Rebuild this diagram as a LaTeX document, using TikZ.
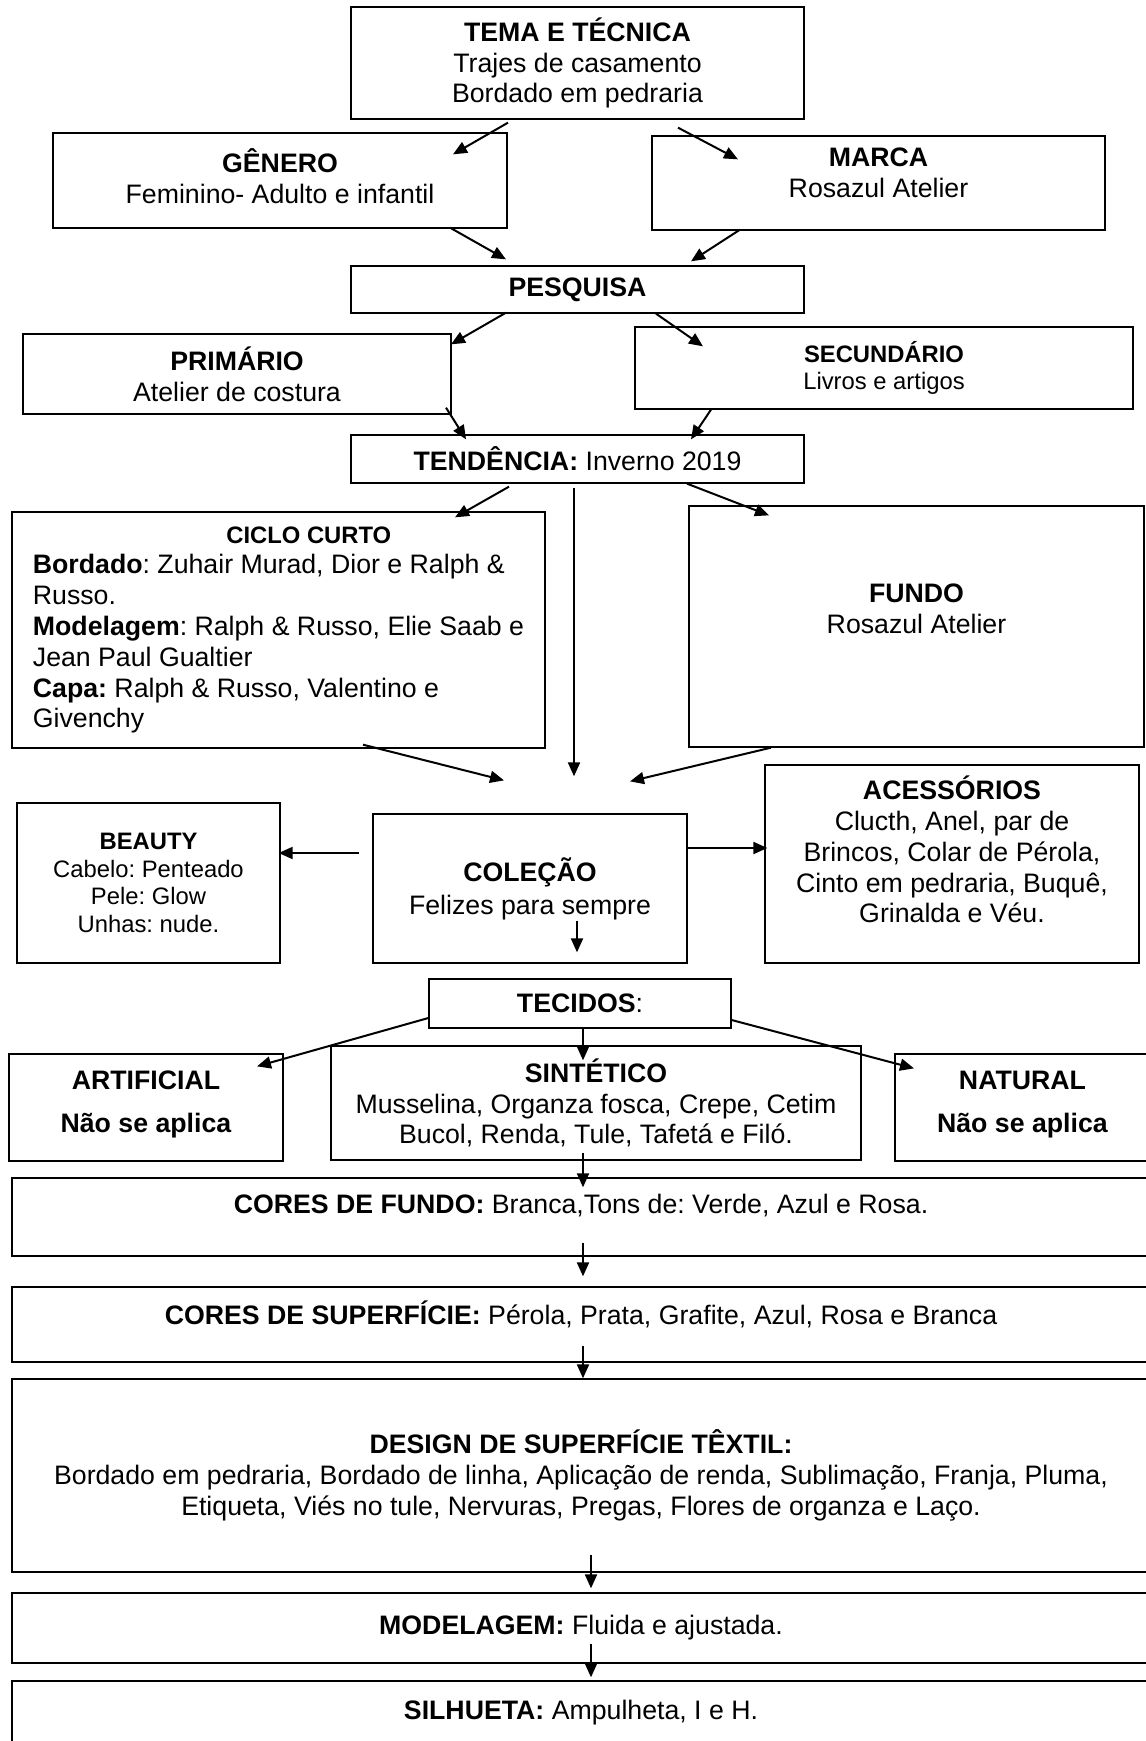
\documentclass[tikz,border=0pt]{standalone}
\usepackage{fontspec}
\setmainfont{Liberation Sans}
\usepackage{tikz}
\usetikzlibrary{arrows.meta}
\frenchspacing

\newcommand{\sm}{\fontsize{11.9pt}{13.7pt}\selectfont}
\newcommand{\lift}[2]{\raisebox{0pt}[\height][\dimexpr\depth+#1\relax]{#2}}

\begin{document}
\begin{tikzpicture}[
  x=0.5pt, y=-0.5pt,
  >={Triangle[length=7pt,width=6pt]},
  every node/.style={font=\fontsize{13.35pt}{15.4pt}\selectfont},
  box/.style={draw, line width=0.65pt, align=center, inner sep=1pt},
  sz/.style 2 args={minimum width=#1, minimum height=#2},
  link/.style={->, line width=1pt}
]
\useasboundingbox (0,0) rectangle (1146,1741);

% upper part
\node[box, sz={226.5pt}{56pt}] (tema) at (577.5,63) {\textbf{TEMA E TÉCNICA}\\Trajes de casamento\\Bordado em pedraria};
\node[box, sz={227pt}{47.5pt}] (genero) at (280,180.5) {\lift{0pt}{\begin{tabular}{@{}c@{}}\textbf{GÊNERO}\\Feminino- Adulto e infantil\end{tabular}}};
\node[box, sz={226.5pt}{47pt}] (marca) at (878.5,183) {\lift{7pt}{\begin{tabular}{@{}c@{}}\textbf{MARCA}\\Rosazul Atelier\end{tabular}}};
\node[box, sz={226.5pt}{23.5pt}] (pesquisa) at (577.5,289.5) {\textbf{PESQUISA}};
\node[box, sz={214pt}{40pt}] (primario) at (237,374) {\textbf{PRIMÁRIO}\\Atelier de costura};
\node[box, sz={249pt}{41pt}, font=\sm] (secundario) at (884,368) {\textbf{SECUNDÁRIO}\\Livros e artigos};
\node[box, sz={226.5pt}{24pt}] (tendencia) at (577.5,459) {\textbf{TENDÊNCIA:} Inverno 2019};

% middle part
\node[box, sz={266.5pt}{118pt}, align=left] (ciclo) at (278.5,630) {\hspace*{96.75pt}{\sm\textbf{CICLO CURTO}}\\
  \textbf{Bordado}: Zuhair Murad, Dior e Ralph \&\\Russo.\\
  \textbf{Modelagem}: Ralph \& Russo, Elie Saab e\\Jean Paul Gualtier\\
  \textbf{Capa:} Ralph \& Russo, Valentino e\\Givenchy};
\node[box, sz={227.5pt}{120.5pt}] (fundo) at (916.5,626.5) {\lift{15pt}{\begin{tabular}{@{}c@{}}\textbf{FUNDO}\\Rosazul Atelier\end{tabular}}};
\node[box, sz={131.5pt}{80pt}, font=\sm] (beauty) at (148.5,883) {\textbf{BEAUTY}\\Cabelo: Penteado\\Pele: Glow\\Unhas: nude.};
\node[box, sz={157pt}{74.5pt}] (colecao) at (530,888.5) {\textbf{COLEÇÃO}\\[1pt]Felizes para sempre};
\node[box, sz={187pt}{99pt}] (acessorios) at (952,864) {\lift{10pt}{\begin{tabular}{@{}c@{}}\textbf{ACESSÓRIOS}\\Clucth, Anel, par de\\Brincos, Colar de Pérola,\\Cinto em pedraria, Buquê,\\Grinalda e Véu.\end{tabular}}};

% fabrics
\node[box, sz={151pt}{24.5pt}] (tecidos) at (580,1003.5) {\textbf{TECIDOS}:};
\node[box, sz={137pt}{53.5pt}] (artificial) at (146,1107.5) {\lift{3pt}{\begin{tabular}{@{}c@{}}\textbf{ARTIFICIAL}\\[6pt]\textbf{Não se aplica}\end{tabular}}};
\node[box, sz={265pt}{57pt}] (sintetico) at (596,1103) {\textbf{SINTÉTICO}\\Musselina, Organza fosca, Crepe, Cetim\\Bucol, Renda, Tule, Tafetá e Filó.};
\node[box, sz={127.5pt}{53.5pt}] (natural) at (1022.5,1107.5) {\lift{3pt}{\begin{tabular}{@{}c@{}}\textbf{NATURAL}\\[6pt]\textbf{Não se aplica}\end{tabular}}};

% lower part
\node[box, sz={569pt}{39pt}] (coresfundo) at (581,1217) {\lift{11pt}{\textbf{CORES DE FUNDO:} Branca,Tons de: Verde, Azul e Rosa.}};
\node[box, sz={569pt}{37.5pt}] (coressup) at (581,1324.5) {\lift{10pt}{\textbf{CORES DE SUPERFÍCIE:} Pérola, Prata, Grafite, Azul, Rosa e Branca}};
\node[box, sz={569pt}{96.5pt}] (design) at (581,1475.5) {\textbf{DESIGN DE SUPERFÍCIE TÊXTIL:}\\Bordado em pedraria, Bordado de linha, Aplicação de renda, Sublimação, Franja, Pluma,\\Etiqueta, Viés no tule, Nervuras, Pregas, Flores de organza e Laço.};
\node[box, sz={569pt}{35pt}] (modelagem) at (581,1628) {\textbf{MODELAGEM:} Fluida e ajustada.};
\node[box, sz={569pt}{32pt}] (silhueta) at (581,1713) {\textbf{SILHUETA:} Ampulheta, I e H.};

% arrows
\draw[link] ([xshift=-34.75pt,yshift=-1.5pt]tema.south) -- ([xshift=86.5pt,yshift=-11pt]genero.north);
\draw[link] ([xshift=50.25pt,yshift=-4pt]tema.south) -- ([xshift=-70.25pt,yshift=-12pt]marca.north);
\draw[link] ([xshift=85pt,yshift=0.5pt]genero.south) -- ([xshift=-35.75pt,yshift=3pt]pesquisa.north);
\draw[link] ([xshift=-69.25pt,yshift=0.5pt]marca.south) -- ([xshift=56.75pt,yshift=2pt]pesquisa.north);
\draw[link] ([xshift=-35.75pt,yshift=0.5pt]pesquisa.south) -- ([xshift=107pt,yshift=-5.5pt]primario.north);
\draw[link] ([xshift=39.25pt]pesquisa.south) -- ([xshift=-90.5pt,yshift=-10pt]secundario.north);
\draw[link] ([xshift=104.5pt,yshift=3.5pt]primario.south) -- ([xshift=-55.75pt,yshift=-2.5pt]tendencia.north);
\draw[link] ([xshift=-86.5pt]secundario.south) -- ([xshift=56.75pt,yshift=-2.5pt]tendencia.north);
\draw[link] ([xshift=-34.25pt,yshift=-1.5pt]tendencia.south) -- ([xshift=88.25pt,yshift=-3pt]ciclo.north);
\draw[link] ([xshift=-1.75pt,yshift=-2pt]tendencia.south) -- ([xshift=22pt,yshift=18.5pt]colecao.north);
\draw[link] ([xshift=54.75pt]tendencia.south) -- ([xshift=-73.75pt,yshift=-5pt]fundo.north);
\draw[link] ([xshift=42.25pt,yshift=2pt]ciclo.south) -- ([xshift=-13pt,yshift=16.5pt]colecao.north);
\draw[link] ([xshift=-72.75pt]fundo.south) -- ([xshift=50pt,yshift=16pt]colecao.north);
\draw[link] ([xshift=-6.5pt,yshift=17.75pt]colecao.west) -- ([xshift=-1pt,yshift=15pt]beauty.east);
\draw[link] ([yshift=20.25pt]colecao.east) -- ([xshift=1.5pt,yshift=8pt]acessorios.west);
\draw[link] ([xshift=23.5pt,yshift=21.5pt]colecao.south) -- ([xshift=-1.5pt,yshift=13pt]tecidos.north);
\draw[link] ([yshift=-7.25pt]tecidos.west) -- ([xshift=55.5pt,yshift=-6.5pt]artificial.north);
\draw[link] ([xshift=1.5pt]tecidos.south) -- ([xshift=-6.5pt,yshift=-7.5pt]sintetico.north);
\draw[link] ([yshift=-8.25pt]tecidos.east) -- ([xshift=-54.25pt,yshift=-7.5pt]natural.north);
\draw[link] ([xshift=-6.5pt,yshift=4pt]sintetico.south) -- ([xshift=1pt,yshift=-5pt]coresfundo.north);
\draw[link] ([xshift=1pt,yshift=7pt]coresfundo.south) -- ([xshift=1pt,yshift=5pt]coressup.north);
\draw[link] ([xshift=1pt,yshift=8.5pt]coressup.south) -- ([xshift=1pt]design.north);
\draw[link] ([xshift=5pt,yshift=9pt]design.south) -- ([xshift=5pt,yshift=2pt]modelagem.north);
\draw[link] ([xshift=5pt,yshift=10pt]modelagem.south) -- ([xshift=5pt,yshift=1.5pt]silhueta.north);
\end{tikzpicture}
\end{document}
